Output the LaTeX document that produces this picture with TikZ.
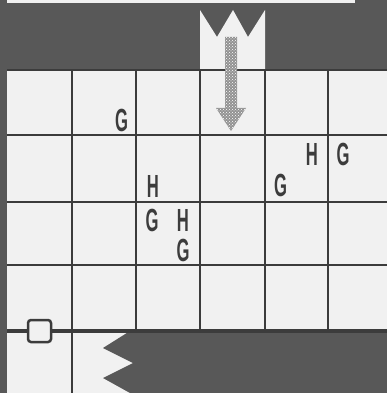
\documentclass[tikz,border=0pt]{standalone}
\usepackage{fontspec}
\setmainfont{Liberation Sans}
\usetikzlibrary{patterns}
\definecolor{band}{HTML}{585858}
\definecolor{paper}{HTML}{F1F1F1}
\definecolor{ink}{HTML}{3C3C3C}
\newcommand\narrowletter[1]{\scalebox{0.52}[1]{#1}}
\tikzset{
  letter/.style={font=\fontsize{32}{32}\selectfont\bfseries, text=ink, inner sep=0pt, anchor=center},
  gridline/.style={draw=ink, line width=1.8pt},
}
\begin{document}
\begin{tikzpicture}[x=1pt,y=-1pt]
\useasboundingbox (0,0) rectangle (387,393);
% paper
\fill[paper] (0,0) rectangle (387,393);
% top band
\fill[band] (0,3) rectangle (387,70);
\fill[band] (355,0) rectangle (387,3);
% crown notch
\fill[paper] (200,70) -- (200,10) -- (217,37) -- (233,10) -- (248,37) -- (265,10) -- (265,70) -- cycle;
% left border
\fill[band] (0,0) rectangle (7,393);
% grid
\draw[gridline] (7,70) -- (387,70);
\foreach \yy in {135,202,265} \draw[gridline] (7,\yy) -- (387,\yy);
\foreach \xx in {136,200,265,328} \draw[gridline] (\xx,70) -- (\xx,331);
\draw[gridline] (72,70) -- (72,393);
% bottom zigzag band
\fill[band] (130,331) -- (387,331) -- (387,393) -- (130,393) -- (103,378) -- (133,363) -- (103,348) -- cycle;
\draw[ink, line width=4pt] (7,331) -- (387,331);
% small square
\node[draw=ink, fill=paper, line width=2.5pt, rounded corners=3pt, minimum width=23pt, minimum height=22pt, inner sep=0pt] (sq) at (39.5,331) {};
% arrow
\fill[gray!85] (225,37) -- (237,37) -- (237,108) -- (246,108) -- (231,131) -- (216,108) -- (225,108) -- cycle;
\fill[pattern=crosshatch dots, pattern color=white] (225,37) -- (237,37) -- (237,108) -- (246,108) -- (231,131) -- (216,108) -- (225,108) -- cycle;
% letters
\node[letter] (g1) at (121.5,120) {\narrowletter{G}};
\node[letter] (h1) at (153,186) {\narrowletter{H}};
\node[letter] (g2) at (280.5,185) {\narrowletter{G}};
\node[letter] (h2) at (312,154) {\narrowletter{H}};
\node[letter] (g3) at (343,154) {\narrowletter{G}};
\node[letter] (g4) at (152,220) {\narrowletter{G}};
\node[letter] (h3) at (183,220) {\narrowletter{H}};
\node[letter] (g5) at (183,250) {\narrowletter{G}};
\end{tikzpicture}
\end{document}
